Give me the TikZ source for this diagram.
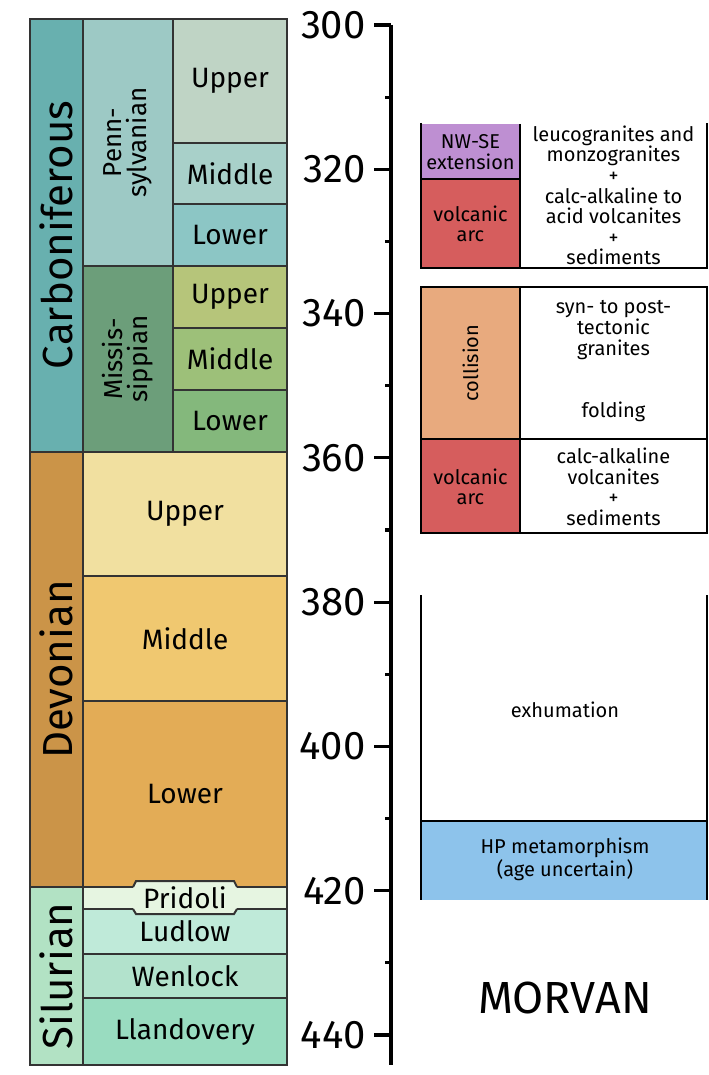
\documentclass[tikz,border=0pt]{standalone}
\usepackage{fontspec}
\setmainfont{Fira Sans}
\definecolor{cCarb}{RGB}{104,176,175}
\definecolor{cPenn}{RGB}{157,201,197}
\definecolor{cPennU}{RGB}{191,212,197}
\definecolor{cPennM}{RGB}{168,208,201}
\definecolor{cPennL}{RGB}{140,198,197}
\definecolor{cMiss}{RGB}{108,158,122}
\definecolor{cMissU}{RGB}{182,197,122}
\definecolor{cMissM}{RGB}{157,192,121}
\definecolor{cMissL}{RGB}{132,184,124}
\definecolor{cDev}{RGB}{203,148,72}
\definecolor{cDevU}{RGB}{241,224,160}
\definecolor{cDevM}{RGB}{240,200,112}
\definecolor{cDevL}{RGB}{227,172,86}
\definecolor{cSil}{RGB}{178,226,196}
\definecolor{cPrid}{RGB}{230,245,225}
\definecolor{cLud}{RGB}{191,234,217}
\definecolor{cWen}{RGB}{178,226,204}
\definecolor{cLla}{RGB}{153,220,192}
\definecolor{cExt}{RGB}{190,143,210}
\definecolor{cArc}{RGB}{214,93,93}
\definecolor{cColl}{RGB}{232,170,126}
\definecolor{cHP}{RGB}{141,195,235}
\definecolor{cEdge}{RGB}{51,51,51}
\tikzset{
  unit/.style={draw=cEdge,line width=1pt},
  frame/.style={draw=black,line width=1.4pt},
  axis/.style={draw=black,line width=1.6pt},
  periodtxt/.style={rotate=90,font=\fontsize{21}{21}\selectfont},
  epochtxt/.style={rotate=90,align=center,font=\fontsize{13}{12.5}\selectfont},
  stagetxt/.style={font=\fontsize{14}{14}\selectfont},
  agelbl/.style={anchor=east,inner sep=2pt,font=\fontsize{20}{20}\selectfont},
  eventtxt/.style={align=center,font=\fontsize{10}{10.3}\selectfont}
}
\begin{document}
\begin{tikzpicture}[x=0.5pt,y=-0.5pt]
\useasboundingbox (0,0) rectangle (708,1075);
%\draw[help lines] (0,0) grid[step=50] (708,1075);
\filldraw[unit,fill=cCarb] (30,19) rectangle (83,452);
\node[periodtxt] (carb) at (56.5,235) {Carboniferous};
\filldraw[unit,fill=cPenn] (83,19) rectangle (173,266);
\node[epochtxt] (penn) at (128,142.5) {Penn-\\sylvanian};
\filldraw[unit,fill=cPennU] (173,19) rectangle (287,143);
\node[stagetxt] (pennU) at (230,81) {Upper};
\filldraw[unit,fill=cPennM] (173,143) rectangle (287,204);
\node[stagetxt] (pennM) at (230,173.5) {Middle};
\filldraw[unit,fill=cPennL] (173,204) rectangle (287,266);
\node[stagetxt] (pennL) at (230,235) {Lower};
\filldraw[unit,fill=cMiss] (83,266) rectangle (173,452);
\node[epochtxt] (miss) at (128,359) {Missis-\\sippian};
\filldraw[unit,fill=cMissU] (173,266) rectangle (287,328);
\node[stagetxt] (missU) at (230,297) {Upper};
\filldraw[unit,fill=cMissM] (173,328) rectangle (287,390);
\node[stagetxt] (missM) at (230,359) {Middle};
\filldraw[unit,fill=cMissL] (173,390) rectangle (287,452);
\node[stagetxt] (missL) at (230,421) {Lower};
\filldraw[unit,fill=cDev] (30,452) rectangle (83,887);
\node[periodtxt] (dev) at (56.5,669.5) {Devonian};
\filldraw[unit,fill=cDevU] (83,452) rectangle (287,576);
\node[stagetxt] (devU) at (185,514) {Upper};
\filldraw[unit,fill=cDevM] (83,576) rectangle (287,701);
\node[stagetxt] (devM) at (185,638.5) {Middle};
\filldraw[unit,fill=cDevL] (83,701) rectangle (287,887);
\node[stagetxt] (devL) at (185,794) {Lower};
\filldraw[unit,fill=cSil] (30,887) rectangle (83,1065);
\node[periodtxt] (sil) at (56.5,976) {Silurian};
\filldraw[unit,fill=cPrid] (83,887) rectangle (287,909);
\filldraw[unit,fill=cLud] (83,909) rectangle (287,954);
\node[stagetxt] (lud) at (185,931.5) {Ludlow};
\filldraw[unit,fill=cWen] (83,954) rectangle (287,998);
\node[stagetxt] (wen) at (185,976) {Wenlock};
\filldraw[unit,fill=cLla] (83,998) rectangle (287,1065);
\node[stagetxt] (lla) at (185,1031.5) {Llandovery};
\fill[cPrid] (133,888) -- (136,881) -- (234,881) -- (237,888) -- (237,908) -- (234,914) -- (136,914) -- (133,908) -- cycle;
\draw[unit] (133,887) -- (136,881) -- (234,881) -- (237,887);
\draw[unit] (133,909) -- (136,914) -- (234,914) -- (237,909);
\node[stagetxt] (prid) at (185,897.5) {Pridoli};
% time axis
\draw[axis] (391,25) -- (391,1065);
\foreach \m in {300,320,...,440} {
  \pgfmathsetmacro{\yy}{25+(\m-300)*7.214}
  \draw[axis] (374,\yy) -- (391,\yy);
  \node[agelbl] (age\m) at (370,\yy) {\m};
}
\foreach \m in {310,330,...,430} {
  \pgfmathsetmacro{\yy}{25+(\m-300)*7.214}
  \draw[axis] (385,\yy) -- (391,\yy);
}
% events
\fill[cExt] (421,124) rectangle (520,179);
\fill[cArc] (421,179) rectangle (520,268);
\draw[frame] (421,123) -- (421,268) -- (707,268) -- (707,123);
\draw[frame] (520,124) -- (520,268);
\draw[frame] (421,179) -- (520,179);
\node[eventtxt] (ext) at (470.5,152) {NW-SE\\extension};
\node[eventtxt] (arcA) at (470.5,224) {volcanic\\arc};
\node[eventtxt] (granA) at (613.5,195.5) {leucogranites and\\monzogranites\\+\\calc-alkaline to\\acid volcanites\\+\\sediments};
\fill[cColl] (421,287) rectangle (520,439);
\fill[cArc] (421,439) rectangle (520,533);
\draw[frame] (421,287) rectangle (707,533);
\draw[frame] (520,287) -- (520,533);
\draw[frame] (421,439) -- (707,439);
\node[eventtxt,rotate=90] (coll) at (470.5,363) {collision};
\node[eventtxt] (arcB) at (470.5,487) {volcanic\\arc};
\node[eventtxt] (granB) at (613.5,330) {syn- to post-\\tectonic\\granites};
\node[eventtxt] (fold) at (613.5,412) {folding};
\node[eventtxt] (volcB) at (613.5,487) {calc-alkaline\\volcanites\\+\\sediments};
\fill[cHP] (421,821) rectangle (707,900);
\draw[frame] (421,595) -- (421,900);
\draw[frame] (707,595) -- (707,900);
\draw[frame] (421,821) -- (707,821);
\node[eventtxt] (exh) at (565,710) {exhumation};
\node[eventtxt] (hp) at (565,859) {HP metamorphism\\(age uncertain)};
\node[font=\fontsize{22.5}{22.5}\selectfont] (morvan) at (565,998) {MORVAN};
\end{tikzpicture}
\end{document}
